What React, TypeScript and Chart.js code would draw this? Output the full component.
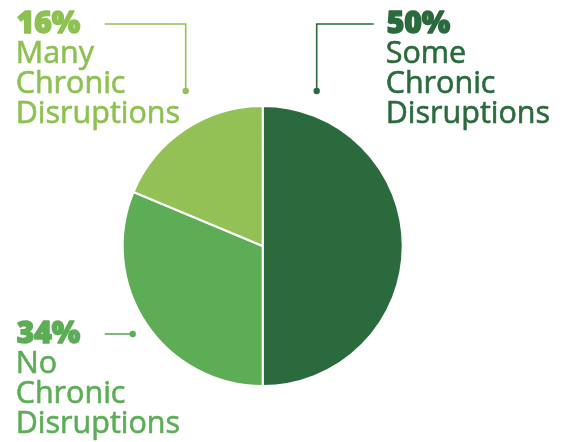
import React, { useEffect, useRef } from "react";
import { Chart, registerables } from "chart.js";

Chart.register(...registerables);

const categories = ["Some Chronic Disruptions", "No Chronic Disruptions", "Many Chronic Disruptions"];
const shares = [50, 31.3, 18.7];
const percentLabels = ["50%", "34%", "16%"];
const labelLines = [
  ["Some", "Chronic", "Disruptions"],
  ["No", "Chronic", "Disruptions"],
  ["Many", "Chronic", "Disruptions"],
];
const sliceColors = ["#2b6a3d", "#5cad56", "#93c155"];
const textColors = ["#2b6a3d", "#5cad56", "#8dc152"];

// leader path (relative to pie centre), text anchor (relative to pie centre)
const callouts = [
  { path: [[111, -222], [54, -222], [54, -155]], text: [124, -213] },
  { path: [[-158, 88], [-130, 88]], text: [-246, 97] },
  { path: [[-158, -222], [-77, -222], [-77, -155]], text: [-246, -213] },
];

const FONT = '"Open Sans", "DejaVu Sans", sans-serif';

const calloutPlugin = {
  id: "callouts",
  afterDraw(chart: any) {
    const ctx = chart.ctx as CanvasRenderingContext2D;
    const arc = chart.getDatasetMeta(0).data[0];
    const cx = arc.x;
    const cy = arc.y;
    callouts.forEach((c, i) => {
      ctx.save();
      ctx.strokeStyle = sliceColors[i];
      ctx.fillStyle = sliceColors[i];
      ctx.lineWidth = 1.6;
      ctx.beginPath();
      c.path.forEach((p, k) => {
        if (k === 0) ctx.moveTo(cx + p[0], cy + p[1]);
        else ctx.lineTo(cx + p[0], cy + p[1]);
      });
      ctx.stroke();
      const end = c.path[c.path.length - 1];
      ctx.beginPath();
      ctx.arc(cx + end[0], cy + end[1], 3.2, 0, Math.PI * 2);
      ctx.fill();

      ctx.fillStyle = textColors[i];
      ctx.strokeStyle = textColors[i];
      ctx.lineJoin = "round";
      ctx.textAlign = "left";
      ctx.textBaseline = "alphabetic";
      const tx = cx + c.text[0];
      let ty = cy + c.text[1];
      ctx.font = `800 30px ${FONT}`;
      ctx.lineWidth = 1.4;
      ctx.fillText(percentLabels[i], tx, ty);
      ctx.strokeText(percentLabels[i], tx, ty);
      ctx.font = `400 30.5px ${FONT}`;
      ctx.lineWidth = 0.6;
      labelLines[i].forEach((line) => {
        ty += 30;
        ctx.fillText(line, tx - 1, ty);
        ctx.strokeText(line, tx - 1, ty);
      });
      ctx.restore();
    });
  },
};

export default function App() {
  const ref = useRef<HTMLCanvasElement>(null);
  useEffect(() => {
    document.body.style.margin = "0";
    const chart = new Chart(ref.current!, {
      type: "pie",
      data: {
        labels: categories,
        datasets: [
          {
            data: shares,
            backgroundColor: sliceColors,
            borderColor: "#ffffff",
            borderWidth: 2,
          },
        ],
      },
      options: {
        animation: false,
        responsive: false,
        layout: { padding: { left: 121.7, right: 165.3, top: 105, bottom: 55 } },
        plugins: { legend: { display: false }, tooltip: { enabled: false } },
      },
      plugins: [calloutPlugin],
    });
    return () => chart.destroy();
  }, []);
  return (
    <div style={{ width: 569, height: 442, background: "#fff" }}>
      <canvas ref={ref} width={569} height={442} style={{ width: 569, height: 442, display: "block" }} />
    </div>
  );
}
